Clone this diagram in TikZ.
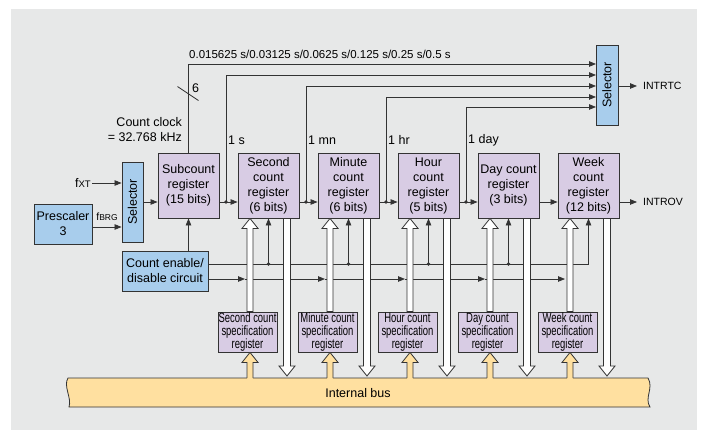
\documentclass[tikz,border=0pt]{standalone}
\usepackage{fontspec}
\setmainfont{Liberation Sans}
\newfontfamily\condfont[FakeStretch=0.7]{Liberation Sans}
\usetikzlibrary{arrows.meta,calc}
\definecolor{bgc}{HTML}{E7E8E8}
\definecolor{regc}{HTML}{D8CCE4}
\definecolor{bluec}{HTML}{A8CDEC}
\definecolor{busc}{HTML}{FFE0A0}
\definecolor{linec}{HTML}{333333}
\newcommand\hollowup[3]{%
  \filldraw[hollow,fill=#3] ($(#1)+(-3,0)$) -- ($(#2)+(-3,10)$) -- ($(#2)+(-8,10)$) -- (#2) -- ($(#2)+(8,10)$) -- ($(#2)+(3,10)$) -- ($(#1)+(3,0)$) -- cycle;}
\newcommand\hollowdown[3]{%
  \filldraw[hollow,fill=#3] ($(#1)+(-3.5,0)$) -- ($(#2)+(-3.5,-10)$) -- ($(#2)+(-8,-10)$) -- (#2) -- ($(#2)+(8,-10)$) -- ($(#2)+(3.5,-10)$) -- ($(#1)+(3.5,0)$) -- cycle;}
\newcommand\busarrow[2]{%
  \fill[busc] ($(#1)+(-3,2)$) -- ($(#2)+(-3,10)$) -- ($(#2)+(-8,10)$) -- (#2) -- ($(#2)+(8,10)$) -- ($(#2)+(3,10)$) -- ($(#1)+(3,2)$) -- cycle;
  \draw[hollow] ($(#1)+(-3,0)$) -- ($(#2)+(-3,10)$) -- ($(#2)+(-8,10)$) -- (#2) -- ($(#2)+(8,10)$) -- ($(#2)+(3,10)$) -- ($(#1)+(3,0)$);}
\begin{document}
\begin{tikzpicture}[x=1pt,y=-1pt,
  ln/.style={draw=linec,line width=0.8pt},
  arr/.style={ln,-{Triangle[length=7pt,width=5.5pt]}},
  hollow/.style={draw=linec,line width=0.8pt},
  basebox/.style={draw=linec,line width=0.9pt,inner sep=0pt,align=center,font=\fontsize{12.5}{15}\selectfont},
  reg/.style={basebox,fill=regc,minimum width=61pt,minimum height=65pt},
  bluebox/.style={basebox,fill=bluec},
  specbox/.style={basebox,fill=regc,minimum width=59pt,minimum height=40pt,font=\condfont\fontsize{13.5}{13}\selectfont},
  lbl/.style={inner sep=0pt,font=\fontsize{12.5}{15}\selectfont},
  small/.style={inner sep=0pt,font=\fontsize{10.5}{12}\selectfont}]
\useasboundingbox (0,0) rectangle (706,430);
\fill[white] (0,0) rectangle (706,430);
\fill[bgc] (11,9) rectangle (697,430);

% registers
\node[reg] (r0) at (188.5,185.5) {Subcount\\register\\(15 bits)};
\node[reg] (r1) at (268.5,185.5) {Second\\count\\register\\(6 bits)};
\node[reg] (r2) at (348.5,185.5) {Minute\\count\\register\\(6 bits)};
\node[reg] (r3) at (428.5,185.5) {Hour\\count\\register\\(5 bits)};
\node[reg] (r4) at (508.5,185.5) {Day count\\register\\(3 bits)};
\node[reg] (r5) at (588.5,185.5) {Week\\count\\register\\(12 bits)};
% blue blocks
\node[bluebox,minimum width=21pt,minimum height=80pt] (sel1) at (132.5,202) {\rotatebox{90}{Selector}};
\node[bluebox,minimum width=22pt,minimum height=80pt] (sel2) at (607,85) {\rotatebox{90}{Selector}};
\node[bluebox,minimum width=58pt,minimum height=40pt] (pre) at (63,224) {Prescaler\\3};
\node[bluebox,minimum width=86pt,minimum height=40pt] (en) at (165,271) {Count enable/\\disable circuit};
% specification registers
\node[specbox] (s1) at (247.5,332) {Second count\\specification\\register};
\node[specbox] (s2) at (327.5,332) {Minute count\\specification\\register};
\node[specbox] (s3) at (407.5,332) {Hour count\\specification\\register};
\node[specbox] (s4) at (487.5,332) {Day count\\specification\\register};
\node[specbox] (s5) at (567.5,332) {Week count\\specification\\register};

% labels
\node[inner sep=0pt,anchor=west,font=\fontsize{11.5}{13}\selectfont] (freq) at (189,54) {0.015625 s/0.03125 s/0.0625 s/0.125 s/0.25 s/0.5 s};
\node[lbl,align=right,anchor=east] (cc) at (182,129.5) {Count clock\\= 32.768 kHz};
\node[lbl,anchor=west] (l1) at (228,140) {1 s};
\node[lbl,anchor=west] (l2) at (308,140) {1 mn};
\node[lbl,anchor=west] (l3) at (388,140) {1 hr};
\node[lbl,anchor=west] (l4) at (468,140) {1 day};
\node[lbl,anchor=west] (six) at (192,88) {6};
\node[small,anchor=west] (rtc) at (643,86) {INTRTC};
\node[small,anchor=west] (ov) at (643,202) {INTROV};
\node[lbl,anchor=east] (fxt) at (91,183) {f{\fontsize{9.5}{9}\selectfont XT}};
\node[inner sep=0pt,font=\fontsize{10.5}{12}\selectfont] (fbrg) at (107,217) {f{\fontsize{8.5}{9}\selectfont BRG}};

% coordinates
\coordinate (i1) at (596,64);
\coordinate (i2) at (596,75);
\coordinate (i3) at (596,86);
\coordinate (i4) at (596,97);
\coordinate (i5) at (596,107);
\coordinate (c1) at (226,202);
\coordinate (c2) at (306,202);
\coordinate (c3) at (386,202);
\coordinate (c4) at (466,202);
\coordinate (bustop) at (0,378);
\coordinate (bustip) at (0,376);
\coordinate (ea) at ([yshift=7pt]en.east);
\coordinate (eb) at ([yshift=-8pt]en.east);
\coordinate (pb) at ([yshift=-3pt]pre.east);
\foreach \i in {1,...,5}{
  \path ([xshift=-18.5pt]r\i.south) coordinate (ut\i);
  \path ([xshift=18.5pt]r\i.south) coordinate (dt\i);
  \path (ut\i |- eb) ++(-5,0) coordinate (t\i);
}

% clock lines
\draw[arr] (r0.north) |- (i1);
\path (r0.north) ++(0,-59) coordinate (sl);
\draw[ln] ([shift={(-11,-7)}]sl) -- ([shift={(10,7)}]sl);
\draw[arr] (c1) |- (i2);
\draw[arr] (c2) |- (i3);
\draw[arr] (c3) |- (i4);
\draw[arr] (c4) |- (i5);
\draw[arr] (sel1.east |- c1) -- (r0.west |- c1);
\draw[arr] (r0.east |- c1) -- (r1.west |- c1);
\draw[arr] (r1.east |- c2) -- (r2.west |- c2);
\draw[arr] (r2.east |- c3) -- (r3.west |- c3);
\draw[arr] (r3.east |- c4) -- (r4.west |- c4);
\draw[arr] (r4.east |- c4) -- (r5.west |- c4);
\foreach \c in {c1,c2,c3,c4} \fill[linec] (\c) circle (1.9);
\draw[arr] (sel2.east |- rtc) -- ([xshift=-6pt]rtc.west);
\draw[arr] (r5.east |- ov) -- ([xshift=-6pt]ov.west);
\draw[arr] ([xshift=1pt]fxt.east) -- (fxt.east -| sel1.west);
\draw[arr] (pb) -- (pb -| sel1.west);
\draw[arr] (en.north -| r0.south) -- (r0.south);

% enable lines
\draw[arr] (ea) -| (r5.south);
\foreach \i in {1,...,4}{
  \draw[arr] (ea -| r\i.south) -- (r\i.south);
  \fill[linec] (ea -| r\i.south) circle (1.9);
}
\draw[arr] (eb) -- (t1);
\foreach \i/\j in {1/2,2/3,3/4,4/5} \draw[arr] (t\i) -- (t\j);

% hollow arrows
\foreach \i in {1,...,5}{
  \path (ut\i |- s\i.north) coordinate (ub\i);
  \hollowup{ub\i}{ut\i}{white}
  \path (dt\i |- bustip) coordinate (dd\i);
  \hollowdown{dt\i}{dd\i}{white}
}

% internal bus
\draw[ln,fill=busc] (68,378) -- (648,378) .. controls (654,388) and (644,398) .. (650,407) -- (69,407) .. controls (72,398) and (63,386) .. cycle;
\node[lbl] (bus) at (358,393) {Internal bus};
\foreach \i in {1,...,5}{
  \path (ut\i |- bustop) coordinate (yb\i);
  \path (ut\i |- s\i.south) coordinate (yt\i);
  \busarrow{yb\i}{yt\i}
}
\end{tikzpicture}
\end{document}
